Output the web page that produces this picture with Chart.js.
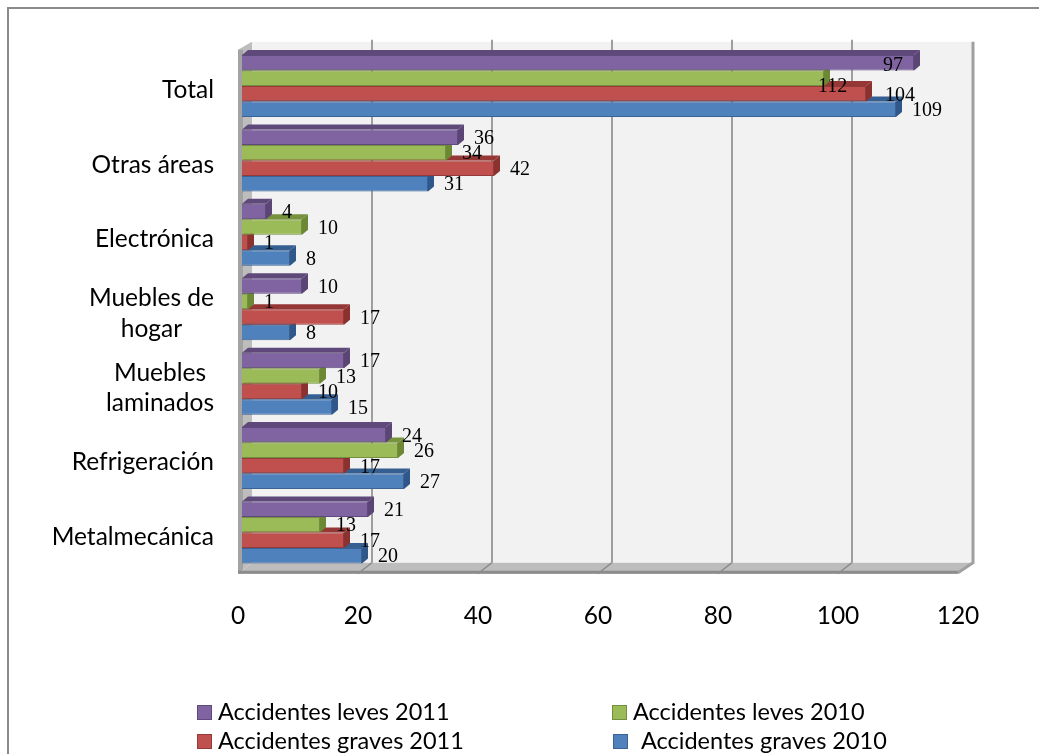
<!DOCTYPE html>
<html>
<head>
<meta charset="utf-8">
<script src="https://cdn.jsdelivr.net/npm/chart.js@4.4.1/dist/chart.umd.min.js"></script>
<style>
  html, body { margin: 0; padding: 0; background: #fff; }
  #wrap { position: relative; width: 1039px; height: 754px; overflow: hidden; }
  #frame { position: absolute; left: 7px; top: 7px; width: 1100px; height: 800px; border: 2px solid #8a8a8a; box-sizing: border-box; pointer-events: none; }
  canvas { position: absolute; left: 0; top: 0; }
  .lg { position: absolute; font-family: Lato, sans-serif; font-size: 23.5px; color: #000; white-space: pre; line-height: 1; }
  .box { position: absolute; width: 15px; height: 15px; box-sizing: border-box; border: 1.5px solid; }
</style>
</head>
<body>
<div id="wrap">
  <canvas id="c" width="1039" height="754"></canvas>
  <div id="frame"></div>
  <div id="legend"></div>
</div>
<script>
// ---- data ----
const categories = ['Total', 'Otras áreas', 'Electrónica', ['Muebles de', 'hogar'], ['Muebles', 'laminados'], 'Refrigeración', 'Metalmecánica'];
const seriesNames = ['Accidentes leves 2011', 'Accidentes leves 2010', 'Accidentes graves 2011', 'Accidentes graves 2010'];
const levesA2011  = [112, 36, 4, 10, 17, 24, 21];
const levesA2010  = [97, 34, 10, 1, 13, 26, 13];
const gravesA2011 = [104, 42, 1, 17, 10, 17, 17];
const gravesA2010 = [109, 31, 8, 8, 15, 27, 20];
const xTicks = [0, 20, 40, 60, 80, 100, 120];
// label texts as printed in the source (the Total labels of the two "leves" series appear swapped)
const shownLabelOverrides = { 0: { 0: '97' }, 1: { 0: '112' } };

// ---- styles ----
const fronts = ['#8064A2', '#9BBB59', '#C0504D', '#4F81BD'];
const borders = ['#5E4A7C', '#748F3F', '#943A38', '#3A6293'];
const tops = ['#5F497A', '#76923C', '#953735', '#365F91'];
const caps = ['#5A4574', '#6C8835', '#8B3230', '#30578A'];
const allSeries = [levesA2011, levesA2010, gravesA2011, gravesA2010];

const DX = 6, DY = 5; // bar depth

const wallsPlugin = {
  id: 'walls',
  beforeDatasetsDraw(chart) {
    const ctx = chart.ctx, s = chart.scales.x, ca = chart.chartArea;
    const fx = v => s.getPixelForValue(v) - 4;
    const bx = v => s.getPixelForValue(v) + 10;
    const yTopB = ca.top - 7, yBotB = ca.bottom - 7, yBotF = ca.bottom + 4;
    ctx.save();
    ctx.fillStyle = '#F2F2F2';
    ctx.fillRect(bx(0), yTopB, bx(120) - bx(0), yBotB - yTopB);
    ctx.fillStyle = '#BDBDBD';
    ctx.beginPath();
    ctx.moveTo(fx(0), ca.top + 1); ctx.lineTo(bx(0), yTopB); ctx.lineTo(bx(0), yBotB); ctx.lineTo(fx(0), yBotF);
    ctx.closePath(); ctx.fill();
    ctx.fillStyle = '#A3A3A3';
    ctx.fillRect(fx(0), ca.top + 1, 5, yBotF - ca.top - 1);
    ctx.fillStyle = '#BDBDBD';
    ctx.beginPath();
    ctx.moveTo(fx(0), yBotF); ctx.lineTo(bx(0), yBotB); ctx.lineTo(bx(120), yBotB); ctx.lineTo(fx(120), yBotF);
    ctx.closePath(); ctx.fill();
    ctx.strokeStyle = '#8C8C8C'; ctx.lineWidth = 3;
    ctx.beginPath(); ctx.moveTo(fx(0), yBotF - 1.5); ctx.lineTo(fx(120), yBotF - 1.5); ctx.stroke();
    ctx.strokeStyle = '#A0A0A0'; ctx.lineWidth = 3;
    ctx.beginPath(); ctx.moveTo(bx(120) + 1, yTopB); ctx.lineTo(bx(120) + 1, yBotB); ctx.lineTo(fx(120), yBotF - 1); ctx.stroke();
    xTicks.forEach(v => {
      if (v === 0 || v === 120) return;
      ctx.strokeStyle = '#9E9E9E'; ctx.lineWidth = 2;
      ctx.beginPath(); ctx.moveTo(bx(v), yTopB - 2); ctx.lineTo(bx(v), yBotB); ctx.stroke();
      ctx.strokeStyle = '#8E8E8E'; ctx.lineWidth = 1.5;
      ctx.beginPath(); ctx.moveTo(bx(v), yBotB); ctx.lineTo(fx(v), yBotF); ctx.stroke();
    });
    ctx.restore();
  }
};

const bar3dPlugin = {
  id: 'bar3d',
  beforeDatasetDraw(chart, args) {
    const ctx = chart.ctx, di = args.index;
    ctx.save();
    args.meta.data.forEach(el => {
      const p = el.getProps(['x', 'y', 'base', 'height'], true);
      if (Math.abs(p.x - p.base) < 0.5) return;
      const top = p.y - p.height / 2, bot = p.y + p.height / 2;
      ctx.fillStyle = tops[di];
      ctx.beginPath();
      ctx.moveTo(p.base, top); ctx.lineTo(p.base + DX, top - DY); ctx.lineTo(p.x + DX, top - DY); ctx.lineTo(p.x, top);
      ctx.closePath(); ctx.fill();
      ctx.fillStyle = caps[di];
      ctx.beginPath();
      ctx.moveTo(p.x, top); ctx.lineTo(p.x + DX, top - DY); ctx.lineTo(p.x + DX, bot - DY); ctx.lineTo(p.x, bot);
      ctx.closePath(); ctx.fill();
    });
    ctx.restore();
  }
};

const labelsPlugin = {
  id: 'valueLabels',
  afterDatasetsDraw(chart) {
    const ctx = chart.ctx;
    ctx.save();
    ctx.font = '20px "Liberation Serif", "Times New Roman", serif';
    ctx.fillStyle = '#000';
    ctx.textBaseline = 'middle';
    chart.data.datasets.forEach((ds, di) => {
      const meta = chart.getDatasetMeta(di);
      meta.data.forEach((el, i) => {
        const p = el.getProps(['x', 'y', 'height'], true);
        let txt = String(ds.data[i]);
        let x = p.x + 16, y = p.y + 1.5, align = 'left';
        if (shownLabelOverrides[di] && shownLabelOverrides[di][i] !== undefined) {
          txt = shownLabelOverrides[di][i];
          if (di === 0) { x = p.x - 11; align = 'right'; y = p.y + 2.5; }
          if (di === 1) { x = p.x - 6; y = p.y + 8; }
        }
        if (di === 2 && i === 0) { x = p.x + 19; }
        ctx.textAlign = align;
        ctx.fillText(txt, x, y);
      });
    });
    ctx.restore();
  }
};

const catLabelsPlugin = {
  id: 'catLabels',
  afterDraw(chart) {
    const ctx = chart.ctx, ys = chart.scales.y;
    ctx.save();
    ctx.font = '24.5px Lato, sans-serif';
    ctx.fillStyle = '#000';
    ctx.textBaseline = 'middle';
    ctx.textAlign = 'center';
    const right = 214, lh = 30.5;
    categories.forEach((c, i) => {
      const lines = Array.isArray(c) ? c : [c];
      const yc = ys.getPixelForTick(i) + 4.5;
      const w = Math.max(...lines.map(l => ctx.measureText(l).width));
      const xc = right - w / 2;
      lines.forEach((l, k) => {
        ctx.fillText(l, xc, yc + (k - (lines.length - 1) / 2) * lh);
      });
    });
    ctx.restore();
  }
};

new Chart(document.getElementById('c'), {
  type: 'bar',
  data: {
    labels: categories.map(c => Array.isArray(c) ? c.join(' ') : c),
    datasets: allSeries.map((d, i) => ({
      label: seriesNames[i],
      data: d,
      backgroundColor: fronts[i],
      borderColor: borders[i],
      borderWidth: 1,
      categoryPercentage: 0.833,
      barPercentage: 1.0
    }))
  },
  options: {
    indexAxis: 'y',
    responsive: false,
    animation: false,
    devicePixelRatio: 1,
    layout: { padding: { left: 0, right: 77, top: 48.8, bottom: 0 } },
    scales: {
      x: {
        min: 0, max: 120,
        afterBuildTicks(scale) { scale.ticks = xTicks.map(v => ({ value: v })); },
        afterFit(scale) { scale.height = 184.3; },
        grid: { display: false, drawTicks: false },
        border: { display: false },
        ticks: { font: { family: 'Lato', size: 24.5 }, color: '#000', padding: 32, labelOffset: -4, maxRotation: 0 }
      },
      y: {
        afterFit(scale) { scale.width = 242; },
        grid: { display: false, drawTicks: false },
        border: { display: false },
        ticks: { display: false }
      }
    },
    plugins: { legend: { display: false }, tooltip: { enabled: false } }
  },
  plugins: [wallsPlugin, bar3dPlugin, labelsPlugin, catLabelsPlugin]
});

const legendPos = [
  { box: [197, 705], text: [218, 713] },
  { box: [612, 705], text: [633, 713] },
  { box: [197, 734], text: [218, 742] },
  { box: [613, 734], text: [641, 742] }
];
const lg = document.getElementById('legend');
seriesNames.forEach((n, i) => {
  const b = document.createElement('div');
  b.className = 'box';
  b.style.left = legendPos[i].box[0] + 'px';
  b.style.top = legendPos[i].box[1] + 'px';
  b.style.background = fronts[i];
  b.style.borderColor = borders[i];
  lg.appendChild(b);
  const t = document.createElement('div');
  t.className = 'lg';
  t.textContent = n;
  t.style.left = legendPos[i].text[0] + 'px';
  t.style.top = (legendPos[i].text[1] - 13) + 'px';
  lg.appendChild(t);
});
</script>
</body>
</html>
